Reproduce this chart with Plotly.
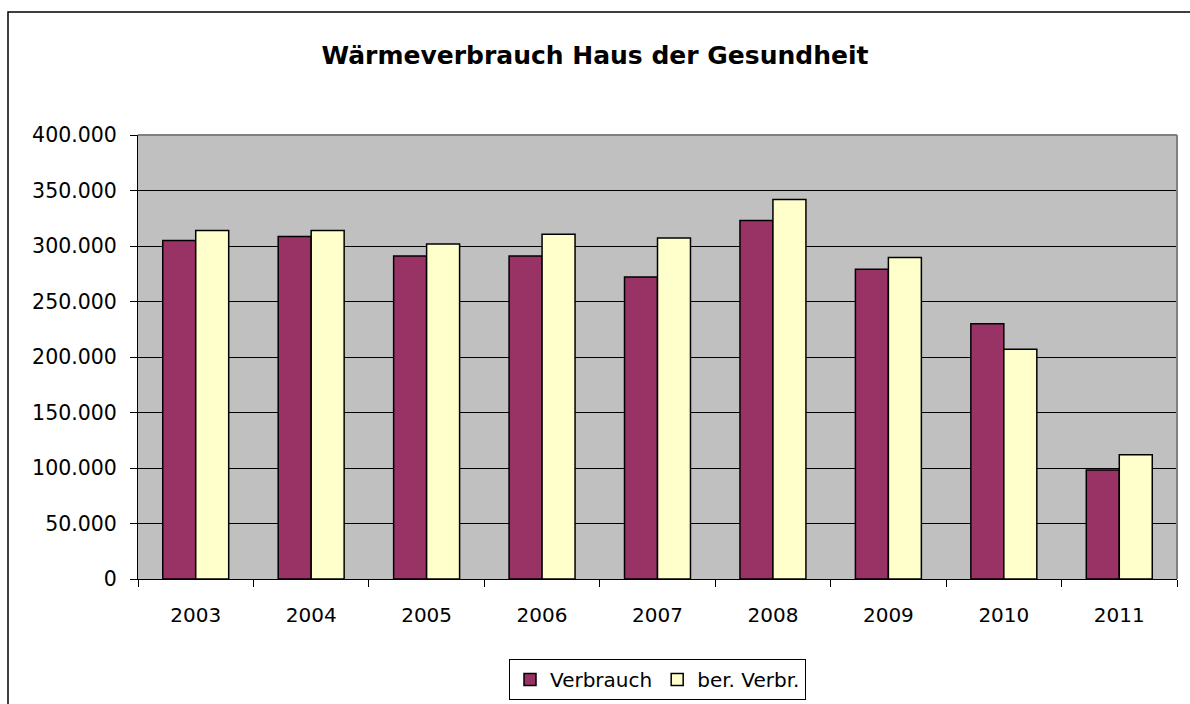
import plotly.graph_objects as go

years = ["2003", "2004", "2005", "2006", "2007", "2008", "2009", "2010", "2011"]
verbrauch = [305000, 308500, 291000, 291000, 272000, 323000, 279000, 230000, 98300]
ber_verbr = [314000, 314000, 301700, 310500, 307300, 342000, 289700, 207000, 112000]
y_ticks = [0, 50000, 100000, 150000, 200000, 250000, 300000, 350000, 400000]

FONT = "DejaVu Sans, Arial, sans-serif"

fig = go.Figure()
fig.add_trace(go.Bar(
    x=years, y=verbrauch, name="Verbrauch",
    marker=dict(color="#993366", line=dict(color="black", width=1.5)),
))
fig.add_trace(go.Bar(
    x=years, y=ber_verbr, name="ber. Verbr.",
    marker=dict(color="#FFFFCC", line=dict(color="black", width=1.5)),
))

L, R, T, B = 138, 13, 135, 125
W, H = 1190, 704
pw, ph = W - L - R, H - T - B

def px_x(x):
    return (x - L) / pw

def px_y(y):
    return (H - B - y) / ph

fig.update_layout(
    width=W, height=H, autosize=False,
    margin=dict(l=L, r=R, t=T, b=B, pad=0, autoexpand=False),
    paper_bgcolor="white", plot_bgcolor="#C0C0C0",
    separators=",.",
    barmode="group", bargap=0.4286, bargroupgap=0,
    font=dict(family=FONT, size=20, color="black"),
    title=dict(text="<b>Wärmeverbrauch Haus der Gesundheit</b>",
               font=dict(family=FONT, size=25, color="black"),
               x=0.5, xanchor="center", xref="container",
               y=1 - 55 / H, yanchor="middle", yref="container"),
    showlegend=True,
    legend=dict(orientation="h", x=0.5, xanchor="center",
                y=px_y(659), yanchor="top",
                bordercolor="black", borderwidth=1, bgcolor="white",
                font=dict(family=FONT, size=20, color="black"),
                traceorder="normal", itemwidth=30),
    xaxis=dict(type="category", showgrid=False, zeroline=False,
               showline=True, linecolor="black", linewidth=1,
               ticks="outside", tickson="boundaries", ticklen=7,
               tickcolor="black", tickwidth=1,
               tickfont=dict(family=FONT, size=20, color="black"),
               ticklabelstandoff=18),
    yaxis=dict(range=[0, 400000], tickvals=y_ticks, tickformat=",d",
               showgrid=True, gridcolor="black", gridwidth=1,
               zeroline=False, showline=True, linecolor="black", linewidth=1,
               ticks="outside", ticklen=7, tickcolor="black", tickwidth=1,
               tickfont=dict(family=FONT, size=20.5, color="black"),
               ticklabelstandoff=9),
    shapes=[
        dict(type="line", xref="paper", yref="paper", x0=0, x1=1, y0=1, y1=1,
             line=dict(color="#808080", width=2), layer="above"),
        dict(type="line", xref="paper", yref="paper", x0=1, x1=1, y0=0, y1=1,
             line=dict(color="#808080", width=2), layer="above"),
        dict(type="rect", xref="paper", yref="paper",
             x0=px_x(8), x1=px_x(1240), y0=px_y(760), y1=px_y(12),
             line=dict(color="black", width=1.5), fillcolor="rgba(0,0,0,0)",
             layer="above"),
    ],
)

fig.write_html("out.html",
               config={"displayModeBar": False},
               post_script="document.body.style.margin='0';document.body.style.overflow='hidden';")
